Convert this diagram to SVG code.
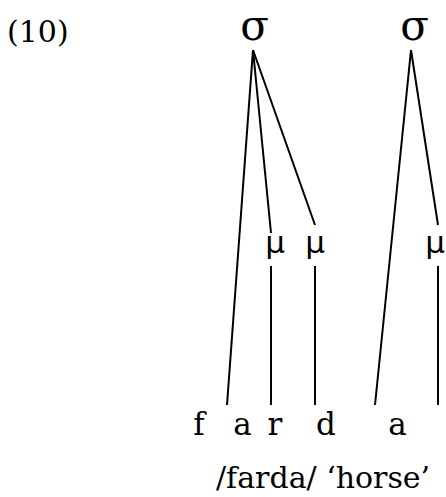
<svg xmlns="http://www.w3.org/2000/svg" width="446" height="497" viewBox="0 0 446 497">
  <style>
    text { font-family: "DejaVu Serif", "Liberation Serif", serif; fill: #000; }
    .num { font-size: 30px; }
    .syl { font-size: 42px; text-anchor: middle; }
    .mora { font-family: "DejaVu Sans", sans-serif; font-size: 31px; text-anchor: middle; }
    .seg { font-size: 31px; text-anchor: middle; }
    .gloss { font-size: 30px; }
    .edges line { stroke: #000; stroke-width: 2; stroke-linecap: butt; }
  </style>
  <rect width="446" height="497" fill="#fff"/>

  <g id="label"><text class="num" x="7" y="42">(10)</text></g>

  <g id="sigma1"><text class="syl" x="254.5" y="40">σ</text></g>
  <g id="sigma2"><text class="syl" x="414.5" y="40">σ</text></g>

  <g id="mu1"><text class="mora" x="275" y="253">μ</text></g>
  <g id="mu2"><text class="mora" x="315" y="253">μ</text></g>
  <g id="mu3"><text class="mora" x="435" y="253">μ</text></g>

  <g id="seg-f"><text class="seg" x="199" y="435">f</text></g>
  <g id="seg-a1"><text class="seg" x="242.5" y="435">a</text></g>
  <g id="seg-r"><text class="seg" x="275" y="435">r</text></g>
  <g id="seg-d"><text class="seg" x="326" y="435">d</text></g>
  <g id="seg-a2"><text class="seg" x="397.5" y="435">a</text></g>

  <g id="gloss"><text class="gloss" x="216" y="488">/farda/ ‘horse’</text></g>

  <g id="connectors" class="edges">
    <line x1="253" y1="50" x2="227" y2="405"/>
    <line x1="253" y1="50" x2="271" y2="233"/>
    <line x1="253" y1="50" x2="315" y2="225"/>
    <line x1="271" y1="266" x2="271" y2="405"/>
    <line x1="315" y1="266" x2="315" y2="405"/>
    <line x1="411" y1="50" x2="375" y2="405"/>
    <line x1="411" y1="50" x2="438" y2="225"/>
    <line x1="438" y1="266" x2="438" y2="405"/>
  </g>
</svg>
